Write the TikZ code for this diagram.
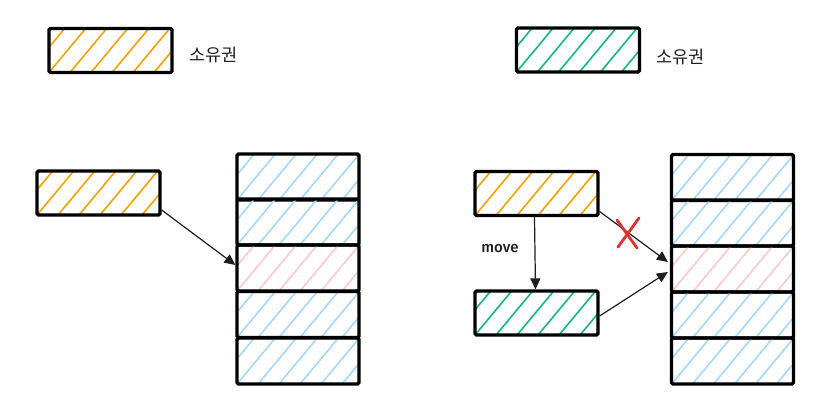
\documentclass[tikz,border=0pt]{standalone}
\usepackage{fontspec}
\newfontfamily\kr{Noto Sans CJK KR}
\newfontfamily\hand{Fira Sans Medium}
\usetikzlibrary{arrows.meta}
\definecolor{ink}{HTML}{1E1E1E}
\definecolor{hOrange}{HTML}{F5A300}
\definecolor{hGreen}{HTML}{12B886}
\definecolor{hBlue}{HTML}{A5D8FF}
\definecolor{hPink}{HTML}{FFC9C9}
\definecolor{xred}{HTML}{E03131}
\tikzset{
  hatchbox/.style={draw=black, line width=3.2pt, rounded corners=1.5pt, inner sep=0pt,
    minimum width=123pt, minimum height=44pt,
    path picture={\foreach \i in {-3,...,8}{\draw[#1, line width=1.6pt]
      ([xshift=\i*21pt]path picture bounding box.south west) -- ++(50pt,60pt);}}},
  cell/.style={hatchbox=#1, minimum width=122pt, minimum height=46pt},
  conn/.style={draw=ink, line width=1.2pt, -{Triangle[length=11pt,width=10pt]}},
  label/.style={font=\kr\fontsize{17.5pt}{20pt}\selectfont, text=ink, anchor=west},
}
\begin{document}
\begin{tikzpicture}[x=1pt,y=-1pt]
\useasboundingbox[fill=white] (0,0) rectangle (823,412);
% legends
\node[hatchbox=hOrange] (legO) at (110.5,50.5) {};
\node[label] (legOt) at (186,55) {소유권};
\node[hatchbox=hGreen] (legG) at (578,50) {};
\node[label] (legGt) at (653,57) {소유권};
% left stack
\node[cell=hBlue] (L1) at (298,177) {};
\node[cell=hBlue] (L2) at (298,222) {};
\node[cell=hPink] (L3) at (298,268) {};
\node[cell=hBlue] (L4) at (298,314.5) {};
\node[cell=hBlue] (L5) at (298,361) {};
% right stack
\node[cell=hBlue] (R1) at (732.5,177.5) {};
\node[cell=hBlue] (R2) at (732.5,223) {};
\node[cell=hPink] (R3) at (732.5,269) {};
\node[cell=hBlue] (R4) at (732.5,315) {};
\node[cell=hBlue] (R5) at (732.5,361) {};
% left owner
\node[hatchbox=hOrange] (oL) at (98.5,193) {};
% right owners
\node[hatchbox=hOrange] (oR) at (536.5,193.5) {};
\node[hatchbox=hGreen] (gR) at (536.5,313) {};
% connectors
\draw[conn] ([yshift=-17pt]oL.east) -- ([yshift=3pt]L3.west);
\draw[conn] ([xshift=-2pt]oR.south) -- ([xshift=-1pt]gR.north);
\node[font=\hand\fontsize{15pt}{17pt}\selectfont, text=ink] (mv) at (500,249) {move};
\draw[conn] ([yshift=-18pt]oR.east) -- ([yshift=7pt,xshift=-2pt]R3.west);
\draw[conn] ([yshift=-3pt]gR.east) -- ([yshift=-3pt,xshift=-2pt]R3.west);
% red X
\coordinate (xm) at (628,233);
\draw[xred, line width=2.8pt, line cap=round] ([shift={(-10pt,-14pt)}]xm) -- ([shift={(11pt,15pt)}]xm);
\draw[xred, line width=2.8pt, line cap=round] ([shift={(-11pt,13pt)}]xm) -- ([shift={(9pt,-15pt)}]xm);
\end{tikzpicture}
\end{document}
